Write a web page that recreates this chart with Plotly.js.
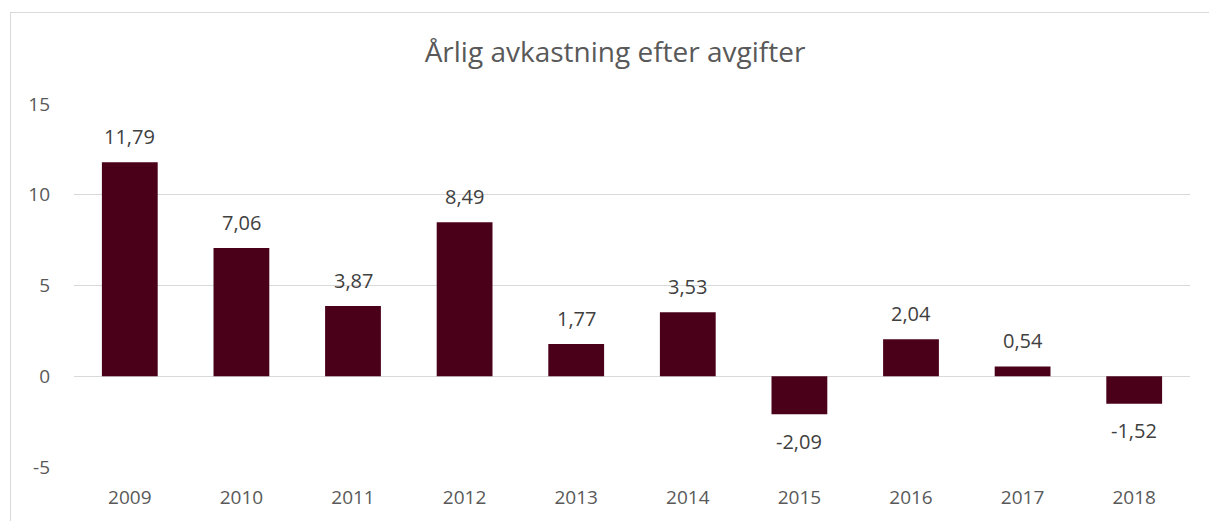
<!DOCTYPE html>
<html>
<head>
<meta charset="utf-8">
<script src="https://cdn.plot.ly/plotly-3.0.1.min.js"></script>
<style>
html,body{margin:0;padding:0;background:#fff;}
#wrap{position:relative;width:1209px;height:521px;overflow:hidden;}
#chart{position:absolute;left:0;top:0;width:1209px;height:521px;}
#frame{position:absolute;left:10px;top:12px;width:1300px;height:600px;border-left:1px solid #d9d9d9;border-top:1px solid #d9d9d9;pointer-events:none;}
</style>
</head>
<body>
<div id="wrap"><div id="chart"></div><div id="frame"></div></div>
<script>
const years = ['2009','2010','2011','2012','2013','2014','2015','2016','2017','2018'];
const returns = [11.79, 7.06, 3.87, 8.49, 1.77, 3.53, -2.09, 2.04, 0.54, -1.52];
const yTickVals = [-5, 0, 5, 10, 15];
const yTickText = ['-5', '0', '5', '10', '15'];
const titleText = 'Årlig avkastning efter avgifter';

const labels = returns.map(v => v.toFixed(2).replace('.', ','));
const font = '"Open Sans", "Liberation Sans", sans-serif';

const annotations = years.map((yr, i) => ({
  x: i, y: returns[i], xref: 'x', yref: 'y',
  text: labels[i], showarrow: false,
  yanchor: 'middle',
  yshift: returns[i] >= 0 ? 26 : -27,
  font: {family: font, size: 20, color: '#404040'}
}));

Plotly.newPlot('chart', [{
  type: 'bar',
  x: years,
  y: returns,
  marker: {color: '#4B001A'},
  hoverinfo: 'none'
}], {
  width: 1209, height: 521,
  margin: {l: 74, r: 19, t: 104, b: 54},
  paper_bgcolor: 'rgba(0,0,0,0)',
  plot_bgcolor: '#fff',
  bargap: 0.5,
  showlegend: false,
  annotations: annotations,
  title: {text: titleText, font: {family: font, size: 28, color: '#595959'}, xref: 'container', x: 0.5087, xanchor: 'center', y: 0.9, yanchor: 'middle'},
  xaxis: {
    type: 'category',
    range: [-0.5, years.length - 0.5],
    tickfont: {family: font, size: 19, color: '#595959'},
    showgrid: false, zeroline: false, showline: false, ticks: '',
    ticklabelstandoff: 17
  },
  yaxis: {
    range: [-5, 15],
    tickvals: yTickVals,
    ticktext: yTickText,
    tickfont: {family: font, size: 19, color: '#595959'},
    showgrid: true, gridcolor: '#d9d9d9', gridwidth: 1,
    zeroline: true, zerolinecolor: '#d9d9d9', zerolinewidth: 1,
    showline: false, ticks: '',
    ticklabelstandoff: 23
  }
}, {staticPlot: true});
</script>
</body>
</html>
